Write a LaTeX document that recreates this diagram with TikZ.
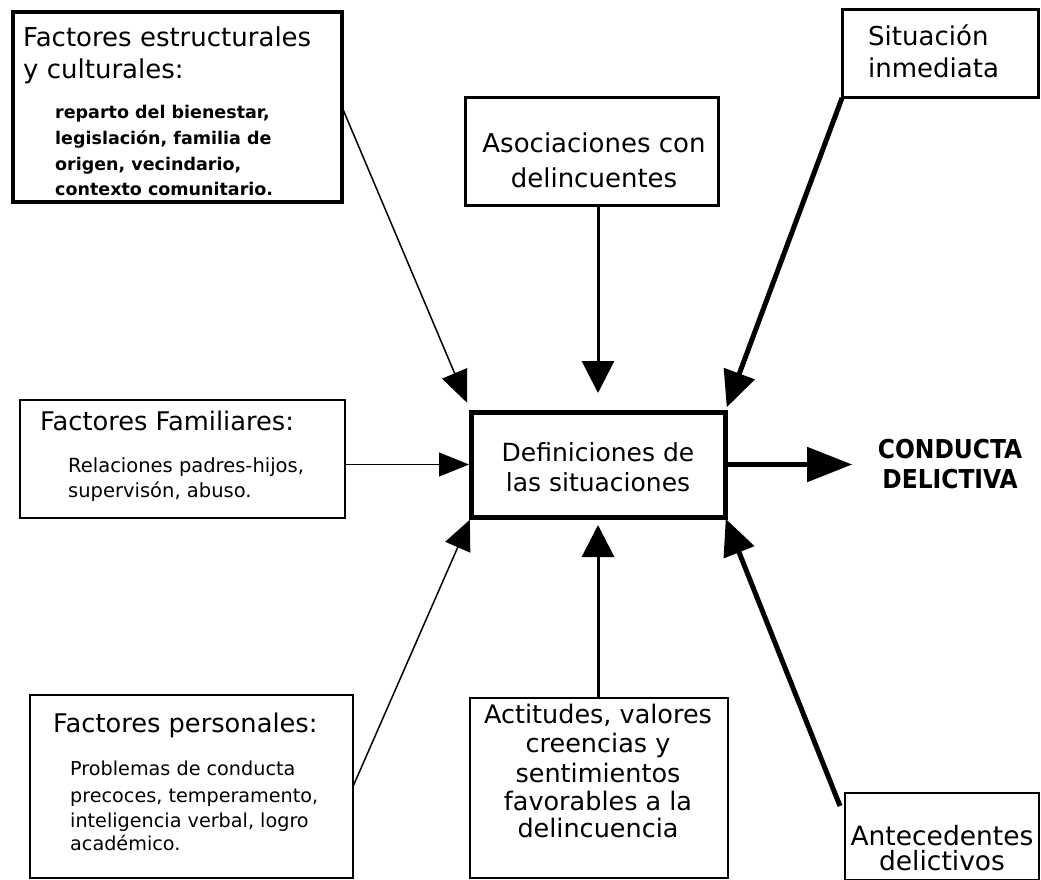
\documentclass[tikz,border=0pt]{standalone}
\usepackage{fontspec}
\setmainfont{DejaVu Sans}
\newfontfamily\condfam{DejaVu Sans Condensed}
\usetikzlibrary{arrows.meta,calc}
\begin{document}
\begin{tikzpicture}[x=1pt,y=-1pt,
  bx/.style={draw,inner sep=0pt,outer sep=0pt},
  tl/.style={anchor=base west,inner sep=0pt},
  tc/.style={anchor=base,inner sep=0pt},
  ft/.style={font=\fontsize{#1}{#1}\selectfont},
  fb/.style={font=\fontsize{#1}{#1}\selectfont\bfseries},
  fc/.style={font=\fontsize{#1}{#1}\selectfont\condfam\bfseries}]
\useasboundingbox[fill=white] (0,0) rectangle (1041,880);
% boxes
\node[bx,line width=3.5pt,minimum width=329pt,minimum height=190pt] (b1) at (177.5,107) {};
\node[bx,line width=3pt,minimum width=253pt,minimum height=107pt] (asoc) at (591.5,151.5) {};
\node[bx,line width=3pt,minimum width=196pt,minimum height=88pt] (sit) at (940,54) {};
\node[bx,line width=2.5pt,minimum width=325pt,minimum height=118pt] (fam) at (182.5,459) {};
\node[bx,line width=5pt,minimum width=254pt,minimum height=105pt] (c) at (598,464.5) {};
\node[bx,line width=2pt,minimum width=323pt,minimum height=183pt] (pers) at (191.5,786.5) {};
\node[bx,line width=2pt,minimum width=258pt,minimum height=180pt] (act) at (599,788) {};
\node[bx,line width=2pt,minimum width=194pt,minimum height=87pt] (ant) at (942,836.5) {};
% texts
\node[tl,ft=26] (b1t1) at (23,47) {Factores estructurales};
\node[tl,ft=26] (b1t2) at (23,79) {y culturales:};
\node[tl,fb=17.5] (b1s1) at (55,119) {reparto del bienestar,};
\node[tl,fb=17.5] (b1s2) at (55,145) {legislación, familia de};
\node[tl,fb=17.5] (b1s3) at (55,170) {origen, vecindario,};
\node[tl,fb=17.5] (b1s4) at (55,195) {contexto comunitario.};
\node[tc,ft=26] (as1) at (594,153) {Asociaciones con};
\node[tc,ft=26] (as2) at (594,187) {delincuentes};
\node[tl,ft=26] (si1) at (868,46) {Situación};
\node[tl,ft=26] (si2) at (868,78) {inmediata};
\node[tl,ft=25.7] (fa1) at (40,430) {Factores Familiares:};
\node[tl,ft=19.5] (fa2) at (68,472) {Relaciones padres-hijos,};
\node[tl,ft=19.5] (fa3) at (68,497) {supervisón, abuso.};
\node[tc,ft=25] (c1) at (598,461) {Definiciones de};
\node[tc,ft=25] (c2) at (598,491) {las situaciones};
\node[tc,fc=26] (out1) at (950,458) {CONDUCTA};
\node[tc,fc=26] (out2) at (950,488) {DELICTIVA};
\node[tl,ft=25.7] (pe1) at (53,732) {Factores personales:};
\node[tl,ft=19.2] (pe2) at (70,775) {Problemas de conducta};
\node[tl,ft=19.2] (pe3) at (70,802) {precoces, temperamento,};
\node[tl,ft=19.2] (pe4) at (70,827) {inteligencia verbal, logro};
\node[tl,ft=19.2] (pe5) at (70,850) {académico.};
\node[tc,ft=25.5] (ac1) at (598,723) {Actitudes, valores};
\node[tc,ft=25.5] (ac2) at (598,752) {creencias y};
\node[tc,ft=25.5] (ac3) at (598,782) {sentimientos};
\node[tc,ft=25.5] (ac4) at (598,810) {favorables a la};
\node[tc,ft=25.5] (ac5) at (598,837) {delincuencia};
\node[tc,ft=26.5] (an1) at (942,845) {Antecedentes};
\node[tc,ft=26.5] (an2) at (942,870) {delictivos};
% arrows
\draw[line width=1.5pt,-{Triangle[length=32pt,width=27pt]},shorten >=10pt] (b1.east) -- (c.north west);
\draw[line width=3pt,-{Triangle[length=32pt,width=32pt]},shorten >=19pt] (c.north |- asoc.south) -- (c.north);
\draw[line width=5pt,-{Triangle[length=36pt,width=32pt]},shorten >=5pt] (sit.south west) -- (c.north east);
\draw[line width=1pt,-{Triangle[length=30pt,width=24pt]},shorten >=2pt] (fam.east |- c.west) -- (c.west);
\draw[line width=1.5pt,-{Triangle[length=30pt,width=27pt]},shorten >=3pt] (pers.east) -- (c.south west);
\draw[line width=3pt,-{Triangle[length=32pt,width=32pt]},shorten >=8pt] (c.south |- act.north) -- (c.south);
\draw[line width=5pt,-{Triangle[length=36pt,width=32pt]},shorten >=2pt] ($(ant.north west)+(-5,13)$) -- (c.south east);
\draw[line width=5pt,-{Triangle[length=45pt,width=34pt]},shorten >=30pt] (c.east) -- (c.east -| out2.west);
\end{tikzpicture}
\end{document}
